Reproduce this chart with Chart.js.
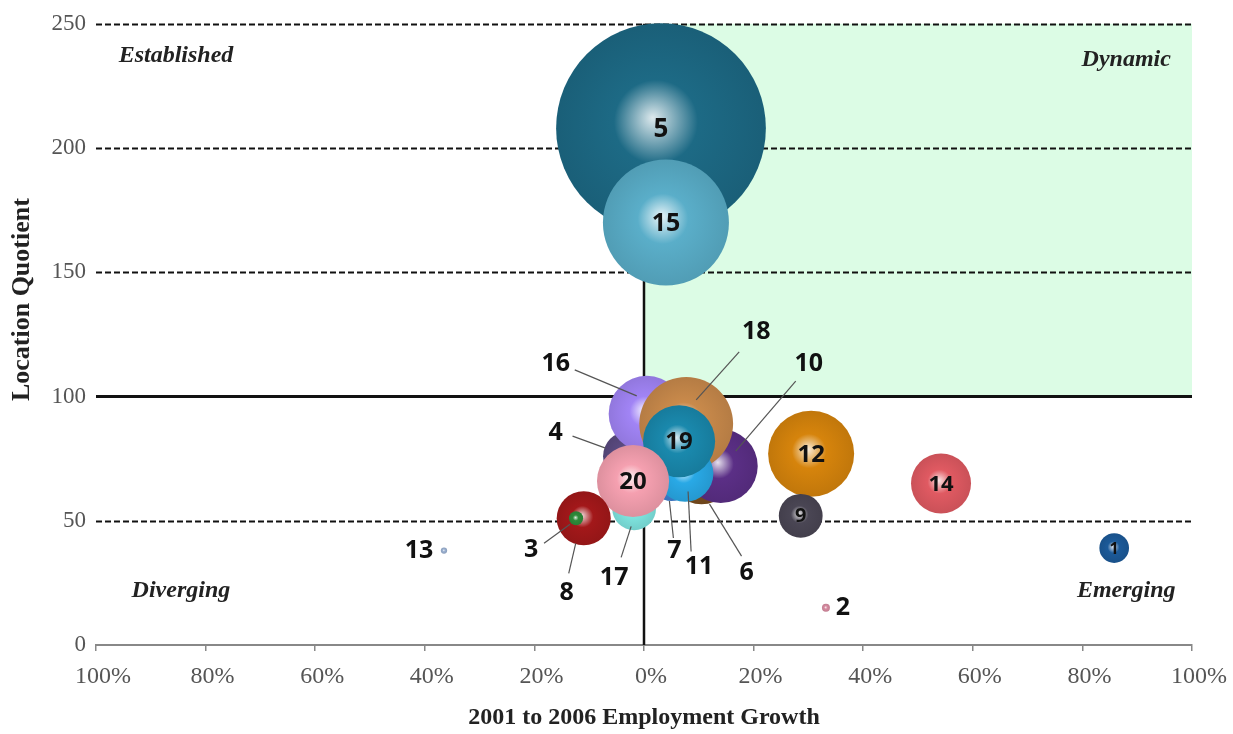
<!DOCTYPE html>
<html>
<head>
<meta charset="utf-8">
<script src="https://cdn.jsdelivr.net/npm/chart.js@4.4.0/dist/chart.umd.min.js"></script>
<style>
  html, body { margin: 0; padding: 0; background: #fff; }
  #wrap { width: 1233px; height: 734px; }
</style>
</head>
<body>
<div id="wrap"><canvas id="chart" width="1233" height="734"></canvas></div>
<script>
// clusters, listed in drawing order (big bubbles first so small ones stay on top)
const clusterIds  = [5, 15, 4, 16, 6, 10, 18, 7, 11, 19, 17, 20, 8, 3, 12, 9, 14, 1, 2, 13];
const growthPct   = [3.1, 4.0, -3.0, 0.5, 10.5, 14.0, 7.7, 5.0, 7.5, 6.4, -1.8, -2.0, -11.0, -12.4, 30.5, 28.6, 54.2, 85.8, 33.2, -36.5];
const locQuotient = [208, 170, 76, 93, 70, 72, 89, 66, 69, 82, 55, 66, 51, 51, 77, 52, 65, 39, 15, 38];
const employment  = [11000, 3970, 600, 1450, 1100, 1370, 2200, 400, 800, 1300, 480, 1300, 730, 50, 1850, 480, 900, 220, 16, 10];
const bubbleColors = ['#1d6a85', '#5aaec9', '#5a4a80', '#a184f5', '#7a4d1e', '#5b2f86', '#c98a4b', '#3f7fd0', '#29a9e6', '#1a89ad',
                      '#7fe5e0', '#f5a0b0', '#a3181a', '#2e8b3a', '#d6840c', '#4a4654', '#e05a62', '#1c5a99', '#d68ba0', '#9ab0d0'];

const xTickValues = [-100, -80, -60, -40, -20, 0, 20, 40, 60, 80, 100];
const yTickValues = [0, 50, 100, 150, 200, 250];
const dashedLevels = [50, 150, 200, 250];

// quadrant names and where they sit (data units)
const quadrants = [
  { text: 'Established', x: -85.4, y: 237 },
  { text: 'Dynamic', x: 88, y: 235.5 },
  { text: 'Diverging', x: -84.5, y: 22 },
  { text: 'Emerging', x: 88, y: 22 }
];

// labels drawn outside the bubble: [label dx, dy, line from dx, dy, line to dx, dy] in px from the bubble centre
const outsideLabels = {
  16: [-91, -50, -72, -44, -10, -18],
  18: [70, -92, 53, -72, 10, -24],
  10: [88, -102, 75, -85, 15, -15],
  4:  [-72, -23, -55, -20, -22, -8],
  3:  [-45, 32, -32, 25, -6, 6],
  8:  [-17, 75, -15, 55, -8, 25],
  17: [-20, 70, -13, 49, -3, 18],
  7:  [3, 70, 2, 57, -2, 20],
  11: [14, 93, 6, 78, 3, 18],
  6:  [45, 102, 40, 85, 8, 33],
  13: [-25, 0, null],
  2:  [17, 0, null]
};
const insideFont = { 5: 26, 15: 25, 19: 24, 20: 24, 12: 24, 14: 22, 9: 20, 1: 16 };

function mix(hex, other, t) {
  const a = parseInt(hex.slice(1), 16), b = parseInt(other.slice(1), 16);
  const ch = (v, s) => (v >> s) & 255;
  const r = Math.round(ch(a, 16) * (1 - t) + ch(b, 16) * t);
  const g = Math.round(ch(a, 8) * (1 - t) + ch(b, 8) * t);
  const bl = Math.round(ch(a, 0) * (1 - t) + ch(b, 0) * t);
  return `rgb(${r},${g},${bl})`;
}

const points = clusterIds.map((id, i) => ({
  x: growthPct[i],
  y: locQuotient[i],
  r: Math.sqrt(employment[i]),
  id: id
}));

const backdrop = {
  id: 'backdrop',
  beforeDatasetsDraw(chart) {
    const { ctx, scales: { x, y }, chartArea } = chart;
    ctx.save();
    // dynamic quadrant
    ctx.fillStyle = '#dcfce5';
    const gx0 = x.getPixelForValue(0), gy0 = y.getPixelForValue(250);
    ctx.fillRect(gx0, gy0, x.getPixelForValue(100) - gx0, y.getPixelForValue(100) - gy0);

    ctx.strokeStyle = '#111';
    ctx.lineWidth = 2;
    ctx.setLineDash([6, 3]);
    dashedLevels.forEach(v => {
      const py = Math.round(y.getPixelForValue(v)) + 0.5;
      ctx.beginPath();
      ctx.moveTo(chartArea.left, py);
      ctx.lineTo(chartArea.right, py);
      ctx.stroke();
    });
    ctx.setLineDash([]);
    ctx.lineWidth = 3;
    const p100 = y.getPixelForValue(100);
    ctx.beginPath();
    ctx.moveTo(chartArea.left, p100);
    ctx.lineTo(chartArea.right, p100);
    ctx.stroke();
    ctx.lineWidth = 2.5;
    ctx.beginPath();
    ctx.moveTo(gx0, y.getPixelForValue(0));
    ctx.lineTo(gx0, y.getPixelForValue(250));
    ctx.stroke();

    ctx.fillStyle = '#222';
    ctx.font = 'italic bold 24px "Liberation Serif"';
    ctx.textAlign = 'center';
    ctx.textBaseline = 'middle';
    quadrants.forEach(q => ctx.fillText(q.text, x.getPixelForValue(q.x), y.getPixelForValue(q.y)));

    // y axis title sits a bit above the middle in the original
    ctx.save();
    ctx.translate(22, y.getPixelForValue(139));
    ctx.rotate(-Math.PI / 2);
    ctx.font = 'bold 26px "Liberation Serif"';
    ctx.fillText('Location Quotient', 0, 0);
    ctx.restore();
    ctx.restore();
  }
};

const bubbleLabels = {
  id: 'bubbleLabels',
  afterDatasetsDraw(chart) {
    const { ctx, scales: { x, y } } = chart;
    ctx.save();
    ctx.textAlign = 'center';
    ctx.textBaseline = 'middle';
    points.forEach(p => {
      const cx = x.getPixelForValue(p.x), cy = y.getPixelForValue(p.y);
      const place = outsideLabels[p.id];
      if (place) {
        if (place[2] !== null && place.length === 6) {
          ctx.strokeStyle = '#555';
          ctx.lineWidth = 1.2;
          ctx.beginPath();
          ctx.moveTo(cx + place[2], cy + place[3]);
          ctx.lineTo(cx + place[4], cy + place[5]);
          ctx.stroke();
        }
        ctx.fillStyle = '#111';
        ctx.font = 'bold 25px "Open Sans"';
        ctx.fillText(String(p.id), cx + place[0], cy + place[1]);
      } else {
        ctx.fillStyle = '#111';
        ctx.font = `bold ${insideFont[p.id] || 20}px "Open Sans"`;
        ctx.fillText(String(p.id), cx, cy + 1);
      }
    });
    ctx.restore();
  }
};

new Chart(document.getElementById('chart'), {
  type: 'bubble',
  data: {
    datasets: [{
      data: points,
      clip: false,
      borderWidth: 0,
      backgroundColor: (c) => {
        const base = bubbleColors[c.dataIndex] || '#888888';
        if (c.type !== 'data' || !c.chart.chartArea) return base;
        const chart = c.chart;
        const px = chart.scales.x.getPixelForValue(c.raw.x);
        const py = chart.scales.y.getPixelForValue(c.raw.y);
        const r = c.raw.r;
        const g = chart.ctx.createRadialGradient(px - r * 0.08, py - r * 0.1, 0, px, py, r);
        g.addColorStop(0, mix(base, '#ffffff', 0.85));
        g.addColorStop(0.4, base);
        g.addColorStop(1, mix(base, '#000000', 0.1));
        return g;
      }
    }]
  },
  options: {
    responsive: false,
    animation: false,
    events: [],
    layout: { autoPadding: false, padding: { top: 21, right: 41, left: 0, bottom: 0 } },
    plugins: { legend: { display: false }, tooltip: { enabled: false } },
    scales: {
      x: {
        type: 'linear',
        min: -100,
        max: 100,
        afterFit: (s) => { s.height = 89; },
        afterBuildTicks: (s) => { s.ticks = xTickValues.map(v => ({ value: v })); },
        ticks: {
          color: '#555',
          padding: 11,
          labelOffset: 7,
          font: { family: '"Liberation Serif"', size: 24 },
          callback: (v) => Math.abs(v) + '%'
        },
        grid: { display: true, drawOnChartArea: false, drawTicks: true, tickLength: 6, color: '#888', lineWidth: 1.5 },
        border: { display: true, color: '#888', width: 2 },
        title: {
          display: true,
          text: '2001 to 2006 Employment Growth',
          color: '#222',
          font: { family: '"Liberation Serif"', size: 24, weight: 'bold' },
          padding: { top: 0, bottom: 2 }
        }
      },
      y: {
        type: 'linear',
        min: 0,
        max: 250,
        afterFit: (s) => { s.width = 96; },
        afterBuildTicks: (s) => { s.ticks = yTickValues.map(v => ({ value: v })); },
        ticks: {
          color: '#555',
          padding: 10,
          font: { family: '"Liberation Serif"', size: 23 }
        },
        grid: { display: false, drawTicks: false },
        border: { display: false },
        title: { display: false }
      }
    }
  },
  plugins: [backdrop, bubbleLabels]
});
</script>
</body>
</html>
